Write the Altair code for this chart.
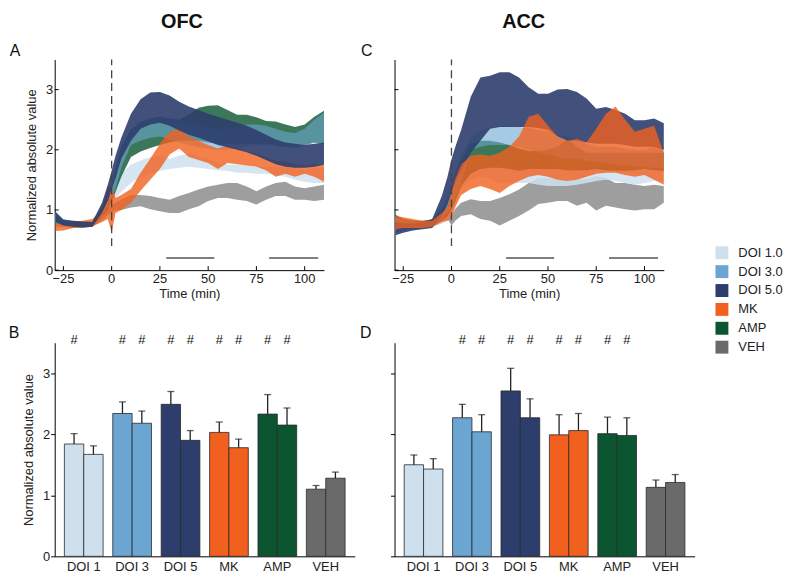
import altair as alt
import pandas as pd

FONT = "Liberation Sans"

# ---------------- legend / series ----------------
series = ["DOI 1.0", "DOI 3.0", "DOI 5.0", "MK", "AMP", "VEH"]
series_colors = ["#cee0ee", "#6aa6d1", "#2d3e6d", "#f1601f", "#0b5530", "#6a6a6a"]
band_opacity = {"DOI 1.0": 0.85, "DOI 3.0": 0.6, "DOI 5.0": 0.9, "MK": 0.8, "AMP": 0.8, "VEH": 0.65}

# ---------------- time courses (lower / upper edge of each band) ----------------
times = [-29, -25, -20, -15, -10, -5, -2, 0, 2, 5, 10, 15, 20, 25, 30, 35, 40, 45, 50, 55,
         60, 65, 70, 75, 80, 85, 90, 95, 100, 105, 110]

# OFC
ofc_doi1_lo = [0.78, 0.74, 0.72, 0.72, 0.72, 0.88, 1.00, 1.10, 1.20, 1.30, 1.45, 1.55, 1.60, 1.65, 1.68, 1.70,
               1.72, 1.70, 1.68, 1.66, 1.65, 1.62, 1.62, 1.60, 1.60, 1.58, 1.55, 1.50, 1.47, 1.45, 1.45]
ofc_doi1_hi = [0.92, 0.84, 0.82, 0.82, 0.80, 1.02, 1.20, 1.35, 1.45, 1.60, 1.75, 1.82, 1.88, 1.90, 1.85, 1.90,
               1.94, 1.88, 1.85, 1.78, 1.75, 1.75, 1.74, 1.72, 1.72, 1.72, 1.70, 1.68, 1.66, 1.70, 1.70]
ofc_doi3_lo = [0.78, 0.74, 0.72, 0.72, 0.72, 0.92, 1.05, 1.20, 1.35, 1.70, 2.08, 2.15, 2.20, 2.22, 2.18, 2.12,
               2.08, 2.04, 2.02, 2.00, 2.00, 2.02, 2.05, 2.08, 2.08, 2.06, 2.04, 2.02, 2.06, 2.12, 2.10]
ofc_doi3_hi = [0.95, 0.84, 0.81, 0.81, 0.81, 1.08, 1.30, 1.50, 1.70, 2.05, 2.34, 2.46, 2.52, 2.55, 2.52, 2.48,
               2.45, 2.40, 2.37, 2.35, 2.35, 2.38, 2.42, 2.42, 2.40, 2.35, 2.30, 2.28, 2.35, 2.50, 2.62]
ofc_doi5_lo = [0.80, 0.74, 0.72, 0.71, 0.72, 0.95, 1.15, 1.35, 1.52, 1.85, 2.15, 2.35, 2.42, 2.45, 2.40, 2.32,
               2.25, 2.20, 2.14, 2.08, 2.04, 2.00, 1.96, 1.90, 1.83, 1.76, 1.72, 1.70, 1.70, 1.72, 1.75]
ofc_doi5_hi = [0.97, 0.84, 0.82, 0.81, 0.80, 1.12, 1.42, 1.65, 1.90, 2.20, 2.60, 2.84, 2.95, 2.96, 2.90, 2.80,
               2.72, 2.66, 2.60, 2.55, 2.50, 2.45, 2.40, 2.33, 2.25, 2.17, 2.12, 2.10, 2.08, 2.10, 2.12]
ofc_mk_lo = [0.65, 0.66, 0.70, 0.72, 0.73, 0.80, 0.85, 0.62, 0.95, 1.00, 1.12, 1.32, 1.50, 1.68, 1.92, 2.02,
             1.88, 1.83, 1.78, 1.68, 1.78, 1.76, 1.74, 1.72, 1.66, 1.55, 1.60, 1.55, 1.60, 1.55, 1.47]
ofc_mk_hi = [0.78, 0.76, 0.80, 0.82, 0.85, 1.00, 1.40, 1.38, 1.20, 1.25, 1.35, 1.62, 1.85, 2.10, 2.30, 2.36,
             2.22, 2.15, 2.08, 2.02, 2.07, 2.03, 1.98, 1.94, 1.88, 1.82, 1.80, 1.76, 1.74, 1.76, 1.75]
ofc_amp_lo = [0.78, 0.74, 0.72, 0.72, 0.72, 0.90, 1.00, 1.15, 1.30, 1.55, 1.88, 1.97, 2.03, 2.08, 2.12, 2.15,
              2.15, 2.15, 2.12, 2.10, 2.10, 2.10, 2.10, 2.10, 2.10, 2.08, 2.05, 2.05, 2.08, 2.12, 2.10]
ofc_amp_hi = [0.92, 0.82, 0.80, 0.80, 0.80, 1.05, 1.25, 1.40, 1.70, 2.05, 2.34, 2.46, 2.52, 2.55, 2.52, 2.50,
              2.58, 2.70, 2.73, 2.74, 2.66, 2.58, 2.58, 2.54, 2.48, 2.47, 2.42, 2.38, 2.42, 2.55, 2.65]
ofc_veh_lo = [0.72, 0.72, 0.70, 0.70, 0.72, 0.82, 0.92, 0.95, 1.00, 1.00, 1.04, 1.06, 1.01, 0.98, 0.95, 0.95,
              1.01, 1.06, 1.15, 1.20, 1.20, 1.17, 1.15, 1.09, 1.17, 1.23, 1.23, 1.17, 1.17, 1.15, 1.17]
ofc_veh_hi = [0.90, 0.80, 0.78, 0.78, 0.78, 0.92, 1.02, 1.08, 1.12, 1.17, 1.25, 1.25, 1.23, 1.20, 1.17, 1.23,
              1.28, 1.34, 1.39, 1.42, 1.45, 1.45, 1.39, 1.31, 1.39, 1.45, 1.47, 1.39, 1.36, 1.39, 1.42]

# ACC
acc_doi1_lo = [0.65, 0.68, 0.70, 0.70, 0.72, 0.78, 0.82, 0.90, 1.10, 1.35, 1.50, 1.55, 1.52, 1.45, 1.45, 1.45,
               1.45, 1.42, 1.40, 1.40, 1.40, 1.42, 1.45, 1.48, 1.50, 1.48, 1.45, 1.42, 1.45, 1.48, 1.48]
acc_doi1_hi = [0.85, 0.82, 0.80, 0.80, 0.82, 0.92, 1.00, 1.10, 1.35, 1.55, 1.70, 1.75, 1.72, 1.70, 1.75, 1.82,
               1.85, 1.80, 1.75, 1.70, 1.68, 1.68, 1.70, 1.72, 1.75, 1.72, 1.70, 1.68, 1.68, 1.70, 1.68]
acc_doi3_lo = [0.62, 0.65, 0.68, 0.70, 0.72, 0.85, 0.95, 1.05, 1.20, 1.45, 2.00, 2.05, 2.08, 2.08, 2.08, 2.05,
               2.00, 1.96, 1.92, 1.88, 1.85, 1.85, 1.82, 1.80, 1.78, 1.75, 1.75, 1.72, 1.72, 1.70, 1.70]
acc_doi3_hi = [0.88, 0.82, 0.80, 0.80, 0.82, 1.05, 1.25, 1.45, 1.65, 1.90, 2.20, 2.32, 2.38, 2.40, 2.40, 2.38,
               2.36, 2.33, 2.30, 2.25, 2.22, 2.18, 2.10, 2.05, 2.05, 2.05, 2.02, 2.00, 2.00, 2.05, 2.05]
acc_doi5_lo = [0.58, 0.62, 0.66, 0.68, 0.70, 0.90, 1.10, 1.30, 1.45, 1.65, 1.95, 2.15, 2.35, 2.38, 2.38, 2.38,
               2.38, 2.36, 2.33, 2.22, 2.15, 2.15, 2.12, 2.10, 2.10, 2.10, 2.08, 2.05, 2.05, 2.05, 2.00]
acc_doi5_hi = [0.80, 0.78, 0.78, 0.80, 0.85, 1.23, 1.56, 1.84, 2.05, 2.33, 2.88, 3.20, 3.23, 3.29, 3.29, 3.20,
               3.04, 2.93, 2.93, 3.00, 3.01, 2.96, 2.85, 2.68, 2.71, 2.66, 2.60, 2.49, 2.49, 2.52, 2.44]
acc_mk_lo = [0.68, 0.70, 0.70, 0.70, 0.72, 0.80, 0.82, 0.88, 1.05, 1.25, 1.35, 1.40, 1.35, 1.28, 1.40, 1.48,
             1.55, 1.58, 1.55, 1.50, 1.48, 1.50, 1.55, 1.60, 1.62, 1.62, 1.58, 1.55, 1.58, 1.50, 1.42]
acc_mk_hi = [0.90, 0.88, 0.85, 0.82, 0.82, 0.95, 1.05, 1.30, 1.52, 1.75, 1.90, 1.92, 1.90, 1.95, 2.05, 2.22,
             2.55, 2.60, 2.40, 2.22, 2.15, 2.18, 2.12, 2.35, 2.60, 2.72, 2.50, 2.30, 2.35, 2.40, 1.95]
acc_amp_lo = [0.70, 0.72, 0.72, 0.72, 0.72, 0.82, 0.90, 1.00, 1.15, 1.40, 1.60, 1.68, 1.70, 1.70, 1.68, 1.65,
              1.68, 1.68, 1.68, 1.68, 1.66, 1.66, 1.66, 1.68, 1.66, 1.65, 1.65, 1.66, 1.68, 1.66, 1.65]
acc_amp_hi = [0.92, 0.85, 0.82, 0.82, 0.84, 1.00, 1.15, 1.35, 1.55, 1.82, 2.10, 2.15, 2.15, 2.12, 2.08, 2.02,
              1.98, 1.98, 2.00, 2.05, 2.18, 2.05, 1.95, 1.95, 1.95, 1.95, 1.95, 1.95, 1.95, 1.95, 1.95]
acc_veh_lo = [0.68, 0.70, 0.70, 0.70, 0.72, 0.78, 0.85, 0.74, 0.82, 0.90, 0.93, 0.85, 0.82, 0.74, 0.82, 0.90,
              0.99, 1.10, 1.12, 1.15, 1.15, 1.07, 1.12, 0.99, 1.07, 1.04, 1.01, 0.99, 1.01, 1.01, 1.12]
acc_veh_hi = [0.85, 0.82, 0.78, 0.78, 0.80, 0.88, 0.92, 0.90, 1.02, 1.12, 1.18, 1.15, 1.15, 1.20, 1.26, 1.34,
              1.45, 1.53, 1.53, 1.51, 1.48, 1.51, 1.51, 1.56, 1.53, 1.45, 1.45, 1.42, 1.40, 1.42, 1.40]

# reference marks / tick labels on the time-course panels
x_ticks = [-25, 0, 25, 50, 75, 100]
x_tick_labels = ["\u221225", "0", "25", "50", "75", "100"]
y_ticks = [0, 1, 2, 3]
epoch_start = [28.3, 81.6]
epoch_end = [53.2, 107.0]
epoch_level = [0.2, 0.2]
injection_time = [0]
injection_span = [0.4, 3.5]

# ---------------- bar summaries ----------------
bar_groups = ["DOI 1", "DOI 3", "DOI 5", "MK", "AMP", "VEH"]
ofc_epoch1 = [1.84, 2.34, 2.49, 2.03, 2.33, 1.10]
ofc_epoch1_err = [2.01, 2.53, 2.70, 2.20, 2.65, 1.16]
ofc_epoch2 = [1.67, 2.18, 1.90, 1.78, 2.15, 1.28]
ofc_epoch2_err = [1.81, 2.38, 2.06, 1.92, 2.43, 1.38]
ofc_sig1 = ["#", "#", "#", "#", "#", ""]
ofc_sig2 = ["", "#", "#", "#", "#", ""]
acc_epoch1 = [1.50, 2.27, 2.71, 1.99, 2.01, 1.13]
acc_epoch1_err = [1.66, 2.49, 3.08, 2.32, 2.28, 1.25]
acc_epoch2 = [1.43, 2.04, 2.27, 2.06, 1.98, 1.21]
acc_epoch2_err = [1.60, 2.32, 2.58, 2.34, 2.27, 1.34]
acc_sig1 = ["", "#", "#", "#", "#", ""]
acc_sig2 = ["", "#", "#", "#", "#", ""]

# ---------------- chart building ----------------
W1, H1 = 271, 212
W2, H2 = 302, 215

color_scale = alt.Scale(domain=series, range=series_colors)
legend = alt.Legend(title=None, orient="none", legendX=665, legendY=188, symbolType="square",
                    symbolSize=169, symbolStrokeWidth=0, symbolOpacity=1, labelFontSize=13,
                    labelFont=FONT, labelColor="#222", rowPadding=5, labelOffset=10, padding=0)
color_enc = alt.Color("series:N", scale=color_scale, legend=legend)


def band_df(bands):
    recs = []
    for s, (lo, hi) in bands.items():
        for t, a, b in zip(times, lo, hi):
            recs.append({"t": t, "lo": a, "hi": b, "series": s})
    return pd.DataFrame(recs)


def label_layer(text, x, y, size, weight="normal"):
    return alt.Chart(pd.DataFrame({"s": [text]})).mark_text(
        fontSize=size, font=FONT, fontWeight=weight, color="#111", align="center", baseline="middle"
    ).encode(x=alt.value(x), y=alt.value(y), text="s:N")


def ts_panel(bands, order, letter, letter_x, title, title_x, show_y):
    df = band_df(bands)
    xs = alt.Scale(domain=[-29.5, 110], nice=False, zero=False)
    ys = alt.Scale(domain=[0, 3.5], nice=False, zero=False)
    xaxis = alt.Axis(values=x_ticks, title="Time (min)", ticks=False, tickSize=0, labels=False,
                     titlePadding=18)
    if show_y:
        yaxis = alt.Axis(values=y_ticks, title="Normalized absolute value", ticks=False, tickSize=0,
                         labelPadding=2, titlePadding=7)
    else:
        yaxis = alt.Axis(values=y_ticks, title=None, labels=False, ticks=False, tickSize=0)

    def X(f):
        return alt.X(f, type="quantitative", scale=xs, axis=xaxis)

    def Y(f):
        return alt.Y(f, type="quantitative", scale=ys, axis=yaxis)

    layers = []
    for s in order:
        layers.append(
            alt.Chart(df).transform_filter(alt.datum.series == s)
            .mark_area(opacity=band_opacity[s], interpolate="linear")
            .encode(x=X("t"), y=Y("lo"), y2="hi:Q", color=color_enc)
        )
    dash_df = pd.DataFrame({"t": injection_time, "lo": [injection_span[0]], "hi": [injection_span[1]]})
    layers.append(alt.Chart(dash_df).mark_rule(color="#444", strokeWidth=1.3, strokeDash=[8, 5])
                  .encode(x=X("t"), y=Y("lo"), y2="hi:Q"))
    ep_df = pd.DataFrame({"t": epoch_start, "t2": epoch_end, "lo": epoch_level})
    layers.append(alt.Chart(ep_df).mark_rule(color="#555", strokeWidth=1.5)
                  .encode(x=X("t"), x2="t2:Q", y=Y("lo")))
    xt_df = pd.DataFrame({"t": x_ticks, "lab": x_tick_labels})
    layers.append(alt.Chart(xt_df).mark_rule(color="black", strokeWidth=1)
                  .encode(x=X("t"), y=alt.value(H1), y2=alt.value(H1 - 4)))
    layers.append(alt.Chart(xt_df).mark_text(fontSize=13, font=FONT, color="#222", align="center",
                                             baseline="top")
                  .encode(x=X("t"), y=alt.value(H1 + 3), text="lab:N"))
    yt_df = pd.DataFrame({"lo": y_ticks})
    layers.append(alt.Chart(yt_df).mark_rule(color="black", strokeWidth=1)
                  .encode(x=alt.value(0), x2=alt.value(4), y=Y("lo")))
    layers.append(label_layer(letter, letter_x, -9, 16))
    layers.append(label_layer(title, title_x, -38, 20, "bold"))
    return alt.layer(*layers).properties(width=W1, height=H1)


def bar_panel(m1, e1, m2, e2, s1, s2, letter, letter_x, show_y):
    recs = []
    for i, g in enumerate(bar_groups):
        recs.append({"group": g, "rep": "1", "mean": m1[i], "err": e1[i], "series": series[i], "sig": s1[i]})
        recs.append({"group": g, "rep": "2", "mean": m2[i], "err": e2[i], "series": series[i], "sig": s2[i]})
    df = pd.DataFrame(recs)
    xenc = alt.X("group:N", sort=bar_groups,
                 scale=alt.Scale(paddingInner=0.2, paddingOuter=0.2),
                 axis=alt.Axis(title=None, ticks=False, tickSize=0, labelAngle=0, labelPadding=4))
    xoff = alt.XOffset("rep:N", scale=alt.Scale(paddingInner=0, paddingOuter=0))
    ys = alt.Scale(domain=[0, 3.5], nice=False, zero=True)
    if show_y:
        yaxis = alt.Axis(values=y_ticks, title="Normalized absolute value", tickSize=4, labelPadding=1,
                         titlePadding=7, tickColor="black")
    else:
        yaxis = alt.Axis(values=y_ticks, title=None, labels=False, tickSize=4, tickColor="black")

    def Y(f):
        return alt.Y(f, type="quantitative", scale=ys, axis=yaxis)

    base = alt.Chart(df)
    bars = base.mark_bar(stroke="#2a2a2a", strokeWidth=0.8, opacity=1).encode(
        x=xenc, xOffset=xoff, y=Y("mean"), color=color_enc)
    errs = base.mark_rule(color="#222", strokeWidth=1.3).encode(
        x=xenc, xOffset=xoff, y=Y("mean"), y2="err:Q")
    caps = base.mark_tick(color="#222", thickness=1.3, size=7, orient="horizontal").encode(
        x=xenc, xOffset=xoff, y=Y("err"))
    sig = base.mark_text(fontSize=13, font=FONT, color="#111", baseline="middle").encode(
        x=xenc, xOffset=xoff, y=alt.value(-3), text="sig:N")
    lab = label_layer(letter, letter_x, -10, 16)
    return alt.layer(bars, errs, caps, sig, lab).properties(width=W2, height=H2)


ofc_bands = {"DOI 1.0": (ofc_doi1_lo, ofc_doi1_hi), "DOI 3.0": (ofc_doi3_lo, ofc_doi3_hi),
             "DOI 5.0": (ofc_doi5_lo, ofc_doi5_hi), "MK": (ofc_mk_lo, ofc_mk_hi),
             "AMP": (ofc_amp_lo, ofc_amp_hi), "VEH": (ofc_veh_lo, ofc_veh_hi)}
acc_bands = {"DOI 1.0": (acc_doi1_lo, acc_doi1_hi), "DOI 3.0": (acc_doi3_lo, acc_doi3_hi),
             "DOI 5.0": (acc_doi5_lo, acc_doi5_hi), "MK": (acc_mk_lo, acc_mk_hi),
             "AMP": (acc_amp_lo, acc_amp_hi), "VEH": (acc_veh_lo, acc_veh_hi)}

panelA = ts_panel(ofc_bands, ["DOI 1.0", "VEH", "AMP", "DOI 3.0", "MK", "DOI 5.0"], "A", -40, "OFC", 128, True)
panelC = ts_panel(acc_bands, ["VEH", "DOI 1.0", "AMP", "DOI 3.0", "DOI 5.0", "MK"], "C", -28, "ACC", 130, False)
panelB = bar_panel(ofc_epoch1, ofc_epoch1_err, ofc_epoch2, ofc_epoch2_err, ofc_sig1, ofc_sig2, "B", -41, True)
panelD = bar_panel(acc_epoch1, acc_epoch1_err, acc_epoch2, acc_epoch2_err, acc_sig1, acc_sig2, "D", -29, False)

row1 = alt.hconcat(panelA, panelC, spacing=37)
row2 = alt.hconcat(panelB, panelD, spacing=5)

chart = alt.vconcat(row1, row2, spacing=24).resolve_scale(color="shared").properties(
    padding={"left": 0, "top": 2, "right": 5, "bottom": 5}
).configure_view(stroke=None).configure_axis(
    grid=False, domainColor="black", domainWidth=1, labelFont=FONT, labelFontSize=13,
    labelColor="#222", titleFont=FONT, titleFontSize=13, titleFontWeight="normal", titleColor="#222"
)

chart.save("out.html", embed_options={"renderer": "svg", "actions": False})
